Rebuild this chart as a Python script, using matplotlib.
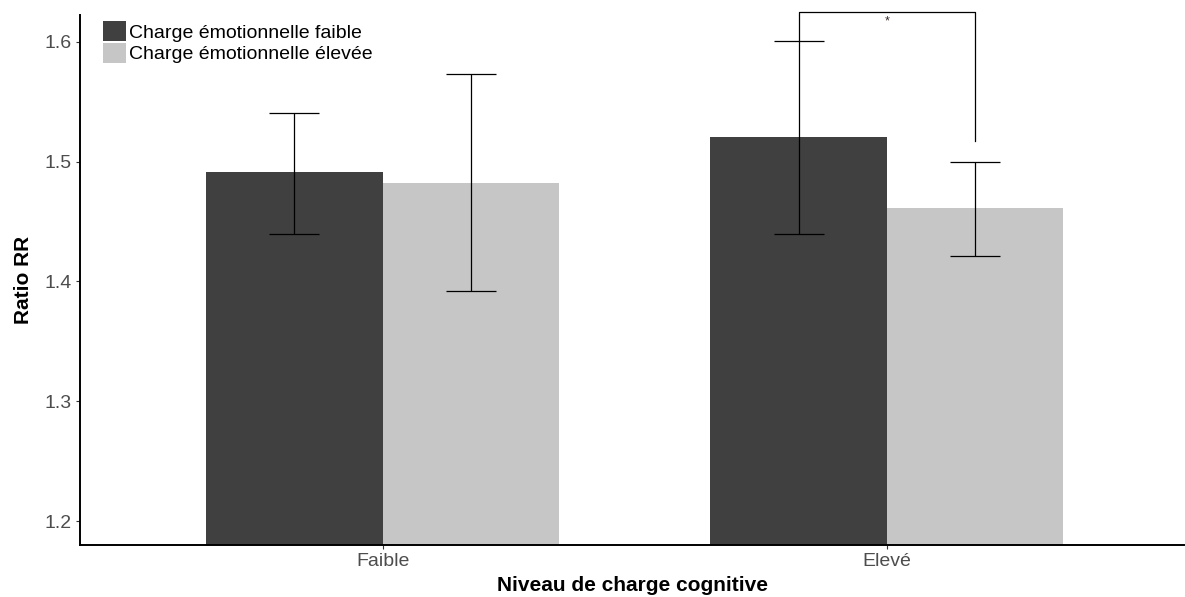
import matplotlib.pyplot as plt
import numpy as np

plt.rcParams['font.family'] = ['Liberation Sans', 'DejaVu Sans']

# Data
categories = ["Faible", "Elevé"]
series = ["Charge émotionnelle faible", "Charge émotionnelle élevée"]
means_low = [1.491, 1.521]
means_high = [1.482, 1.461]
lower_low = [1.440, 1.440]
upper_low = [1.541, 1.601]
lower_high = [1.392, 1.421]
upper_high = [1.573, 1.500]
colors = ["#404040", "#C6C6C6"]

# significance bracket (Elevé group)
sig_top = 1.625
sig_left_end = 1.6015
sig_right_end = 1.517

x = np.arange(1, len(categories) + 1)
w = 0.35

fig = plt.figure(figsize=(11.85, 5.97), dpi=100)
ax = fig.add_axes([0.0675, 0.087, 0.932, 0.888])

ax.bar(x - w / 2, means_low, width=w, color=colors[0], label=series[0])
ax.bar(x + w / 2, means_high, width=w, color=colors[1], label=series[1])

ml, mh = np.array(means_low), np.array(means_high)
ax.errorbar(x - w / 2, ml, yerr=[ml - np.array(lower_low), np.array(upper_low) - ml],
            fmt='none', ecolor='black', elinewidth=0.9, capsize=18, capthick=0.9)
ax.errorbar(x + w / 2, mh, yerr=[mh - np.array(lower_high), np.array(upper_high) - mh],
            fmt='none', ecolor='black', elinewidth=0.9, capsize=18, capthick=0.9)

# bracket
bx0, bx1 = x[1] - w / 2, x[1] + w / 2
ax.plot([bx0, bx0, bx1, bx1], [sig_left_end, sig_top, sig_top, sig_right_end],
        color='black', lw=0.9, clip_on=False)
ax.text(x[1], sig_top - 0.008, "*", ha='center', va='center', fontsize=9, color='#3a2a2a')

ax.set_xlim(0.4, 2.59)
ax.set_ylim(1.18, 1.6225)
ax.set_xticks(x)
ax.set_xticklabels(categories)
ax.set_yticks([1.2, 1.3, 1.4, 1.5, 1.6])
ax.tick_params(axis='both', colors='#333333', labelcolor='#4D4D4D', labelsize=14, length=3, pad=3)

for s in ['top', 'right']:
    ax.spines[s].set_visible(False)
for s in ['left', 'bottom']:
    ax.spines[s].set_linewidth(1.4)

ax.set_xlabel("Niveau de charge cognitive", fontsize=15, fontweight='bold', labelpad=4)
ax.set_ylabel("Ratio RR", fontsize=15, fontweight='bold', labelpad=8)

ax.legend(loc='upper left', bbox_to_anchor=(0.01, 1.01), frameon=False, fontsize=14,
          handlelength=1.2, handleheight=1.2, handletextpad=0.15, labelspacing=0.05,
          borderaxespad=0.2)

fig.savefig("out.png", dpi=100)
